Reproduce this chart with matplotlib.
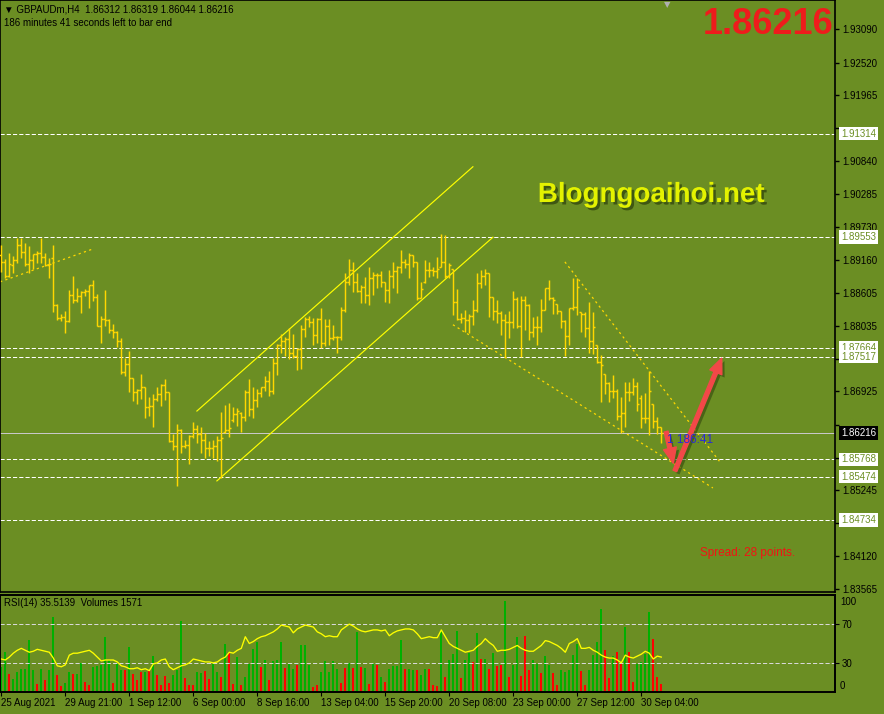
import numpy as np
import matplotlib
matplotlib.use("Agg")
import matplotlib.pyplot as plt
import matplotlib.patheffects as pe
import matplotlib.transforms as mtrans
from matplotlib.patches import FancyArrowPatch

plt.rcParams['font.family'] = ['Liberation Sans', 'DejaVu Sans']
plt.rcParams['lines.scale_dashes'] = False

# ---------------- data ----------------
symbol_header = "▼ GBPAUDm,H4  1.86312 1.86319 1.86044 1.86216"
timer_text = "186 minutes 41 seconds left to bar end"

highs = [1.8942, 1.8918, 1.8928, 1.8923, 1.8954, 1.8954, 1.8945, 1.8940, 1.8926, 1.8932,
         1.8954, 1.8928, 1.8920, 1.8942, 1.8841, 1.8824, 1.8829, 1.8865, 1.8889, 1.8869,
         1.8863, 1.8867, 1.8874, 1.8882, 1.8858, 1.8821, 1.8865, 1.8816, 1.8807, 1.8795,
         1.8783, 1.8749, 1.8761, 1.8715, 1.8697, 1.8722, 1.8700, 1.8683, 1.8688, 1.8700,
         1.8705, 1.8714, 1.8691, 1.8620, 1.8637, 1.8628, 1.8610, 1.8618, 1.8640, 1.8635,
         1.8632, 1.8622, 1.8608, 1.8610, 1.8617, 1.8657, 1.8669, 1.8673, 1.8666, 1.8664,
         1.8657, 1.8695, 1.8714, 1.8700, 1.8697, 1.8700, 1.8719, 1.8727, 1.8749, 1.8773,
         1.8790, 1.8785, 1.8800, 1.8790, 1.8766, 1.8806, 1.8819, 1.8821, 1.8817, 1.8817,
         1.8834, 1.8816, 1.8816, 1.8806, 1.8787, 1.8836, 1.8894, 1.8918, 1.8913, 1.8894,
         1.8874, 1.8887, 1.8904, 1.8896, 1.8894, 1.8897, 1.8879, 1.8899, 1.8913, 1.8906,
         1.8933, 1.8918, 1.8928, 1.8925, 1.8913, 1.8879, 1.8916, 1.8913, 1.8904, 1.8921,
         1.8961, 1.8959, 1.8911, 1.8901, 1.8867, 1.8826, 1.8831, 1.8824, 1.8848, 1.8894,
         1.8899, 1.8901, 1.8894, 1.8853, 1.8848, 1.8829, 1.8824, 1.8829, 1.8863, 1.8853,
         1.8855, 1.8855, 1.8841, 1.8819, 1.8821, 1.8850, 1.8869, 1.8882, 1.8853, 1.8841,
         1.8829, 1.8814, 1.8834, 1.8886, 1.8886, 1.8828, 1.8828, 1.8845, 1.8828, 1.8771,
         1.8754, 1.8722, 1.8708, 1.8720, 1.8697, 1.8683, 1.8708, 1.8708, 1.8715, 1.8708,
         1.8686, 1.8690, 1.8727, 1.8671, 1.8649, 1.86319]
lows = [1.8896, 1.8886, 1.8887, 1.8894, 1.8911, 1.8920, 1.8906, 1.8894, 1.8901, 1.8911,
        1.8911, 1.8906, 1.8886, 1.8828, 1.8814, 1.8812, 1.8792, 1.8811, 1.8843, 1.8845,
        1.8826, 1.8855, 1.8834, 1.8846, 1.8804, 1.8775, 1.8804, 1.8792, 1.8783, 1.8768,
        1.8722, 1.8719, 1.8691, 1.8676, 1.8671, 1.8680, 1.8647, 1.8651, 1.8632, 1.8676,
        1.8668, 1.8678, 1.8606, 1.8593, 1.8531, 1.8588, 1.8596, 1.8569, 1.8613, 1.8605,
        1.8588, 1.8579, 1.8583, 1.8579, 1.8574, 1.8545, 1.8622, 1.8615, 1.8640, 1.8634,
        1.8623, 1.8642, 1.8651, 1.8647, 1.8666, 1.8683, 1.8693, 1.8685, 1.8688, 1.8720,
        1.8758, 1.8753, 1.8748, 1.8749, 1.8729, 1.8731, 1.8785, 1.8802, 1.8771, 1.8775,
        1.8766, 1.8770, 1.8771, 1.8780, 1.8758, 1.8780, 1.8828, 1.8874, 1.8862, 1.8862,
        1.8843, 1.8843, 1.8840, 1.8857, 1.8869, 1.8870, 1.8845, 1.8843, 1.8869, 1.8860,
        1.8894, 1.8903, 1.8886, 1.8904, 1.8848, 1.8852, 1.8877, 1.8887, 1.8889, 1.8886,
        1.8904, 1.8886, 1.8886, 1.8823, 1.8814, 1.8809, 1.8794, 1.8792, 1.8806, 1.8828,
        1.8869, 1.8874, 1.8819, 1.8814, 1.8809, 1.8788, 1.8751, 1.8783, 1.8800, 1.8800,
        1.8751, 1.8797, 1.8780, 1.8785, 1.8771, 1.8794, 1.8831, 1.8848, 1.8824, 1.8824,
        1.8800, 1.8753, 1.8771, 1.8831, 1.8823, 1.8794, 1.8785, 1.8758, 1.8756, 1.8741,
        1.8674, 1.8688, 1.8674, 1.8681, 1.8644, 1.8622, 1.8632, 1.8676, 1.8686, 1.8659,
        1.8630, 1.8639, 1.8618, 1.8630, 1.8620, 1.86044]
opens = [1.8925, 1.8913, 1.8889, 1.8908, 1.8916, 1.8942, 1.8930, 1.8909, 1.8916, 1.8926,
         1.8928, 1.8921, 1.8908, 1.8920, 1.8840, 1.8817, 1.8819, 1.8812, 1.8857, 1.8848,
         1.8855, 1.8862, 1.8863, 1.8874, 1.8853, 1.8804, 1.8816, 1.8814, 1.8797, 1.8794,
         1.8778, 1.8725, 1.8739, 1.8715, 1.8691, 1.8695, 1.8700, 1.8666, 1.8668, 1.8680,
         1.8688, 1.8703, 1.8691, 1.8608, 1.8600, 1.8627, 1.8600, 1.8601, 1.8617, 1.8628,
         1.8620, 1.8610, 1.8596, 1.8596, 1.8600, 1.8610, 1.8623, 1.8627, 1.8644, 1.8654,
         1.8656, 1.8649, 1.8691, 1.8663, 1.8678, 1.8690, 1.8700, 1.8710, 1.8693, 1.8741,
         1.8771, 1.8778, 1.8782, 1.8758, 1.8753, 1.8765, 1.8799, 1.8816, 1.8811, 1.8788,
         1.8816, 1.8775, 1.8804, 1.8783, 1.8785, 1.8785, 1.8831, 1.8879, 1.8899, 1.8879,
         1.8863, 1.8870, 1.8857, 1.8886, 1.8891, 1.8891, 1.8879, 1.8865, 1.8889, 1.8897,
         1.8904, 1.8913, 1.8909, 1.8925, 1.8913, 1.8852, 1.8879, 1.8899, 1.8899, 1.8897,
         1.8904, 1.8913, 1.8889, 1.8901, 1.8845, 1.8816, 1.8817, 1.8814, 1.8821, 1.8831,
         1.8877, 1.8889, 1.8894, 1.8853, 1.8829, 1.8826, 1.8814, 1.8811, 1.8811, 1.8850,
         1.8804, 1.8848, 1.8840, 1.8794, 1.8802, 1.8802, 1.8831, 1.8869, 1.8852, 1.8841,
         1.8829, 1.8812, 1.8787, 1.8834, 1.8836, 1.8828, 1.8824, 1.8800, 1.8778, 1.8771,
         1.8743, 1.8722, 1.8707, 1.8693, 1.8693, 1.8651, 1.8656, 1.8691, 1.8691, 1.8702,
         1.8681, 1.8647, 1.8647, 1.8671, 1.8642, 1.86312]
closes = [1.8913, 1.8889, 1.8909, 1.8916, 1.8942, 1.8930, 1.8909, 1.8916, 1.8926, 1.8928,
          1.8921, 1.8908, 1.8909, 1.8840, 1.8817, 1.8819, 1.8812, 1.8857, 1.8848, 1.8855,
          1.8862, 1.8863, 1.8874, 1.8853, 1.8804, 1.8816, 1.8814, 1.8797, 1.8794, 1.8778,
          1.8725, 1.8739, 1.8715, 1.8691, 1.8695, 1.8700, 1.8666, 1.8668, 1.8680, 1.8688,
          1.8703, 1.8691, 1.8608, 1.8600, 1.8627, 1.8600, 1.8601, 1.8617, 1.8628, 1.8620,
          1.8610, 1.8596, 1.8596, 1.8600, 1.8610, 1.8613, 1.8627, 1.8630, 1.8654, 1.8659,
          1.8649, 1.8691, 1.8663, 1.8678, 1.8690, 1.8700, 1.8710, 1.8693, 1.8741, 1.8771,
          1.8778, 1.8782, 1.8758, 1.8753, 1.8765, 1.8799, 1.8816, 1.8811, 1.8788, 1.8816,
          1.8775, 1.8804, 1.8783, 1.8785, 1.8785, 1.8831, 1.8879, 1.8899, 1.8879, 1.8863,
          1.8870, 1.8857, 1.8886, 1.8891, 1.8891, 1.8879, 1.8865, 1.8889, 1.8897, 1.8904,
          1.8913, 1.8909, 1.8925, 1.8913, 1.8852, 1.8867, 1.8899, 1.8899, 1.8897, 1.8901,
          1.8913, 1.8889, 1.8908, 1.8845, 1.8816, 1.8817, 1.8814, 1.8821, 1.8831, 1.8877,
          1.8889, 1.8894, 1.8853, 1.8829, 1.8826, 1.8814, 1.8811, 1.8811, 1.8850, 1.8804,
          1.8848, 1.8840, 1.8794, 1.8802, 1.8802, 1.8831, 1.8869, 1.8852, 1.8848, 1.8829,
          1.8812, 1.8787, 1.8834, 1.8836, 1.8870, 1.8824, 1.8800, 1.8778, 1.8802, 1.8743,
          1.8737, 1.8707, 1.8693, 1.8693, 1.8651, 1.8656, 1.8691, 1.8691, 1.8702, 1.8671,
          1.8647, 1.8647, 1.8693, 1.8642, 1.8632, 1.86216]

rsi = [34, 33, 36, 40, 43, 45, 43, 41, 42, 44,
       43, 42, 41, 35, 27, 26, 28, 38, 40, 40,
       41, 42, 43, 40, 36, 32, 33, 33, 33, 31,
       27, 26, 24, 24, 25, 23, 24, 22, 29, 30,
       33, 34, 26, 23, 25, 27, 28, 30, 34, 33,
       32, 31, 31, 30, 31, 34, 36, 41, 40, 43,
       45, 57, 50, 52, 55, 57, 58, 60, 62, 65,
       69, 68, 67, 61, 65, 67, 69, 68, 67, 62,
       60, 57, 58, 57, 57, 64, 67, 70, 68, 65,
       63, 62, 63, 64, 64, 63, 64, 58, 61, 63,
       64, 65, 65, 64, 60, 55, 56, 57, 56, 56,
       64, 57, 50, 47, 45, 43, 41, 42, 43, 47,
       50, 55, 51, 48, 42, 43, 43, 44, 46, 48,
       45, 43, 42, 42, 45, 48, 53, 52, 50, 48,
       45, 41, 50, 52, 55, 45, 45, 46, 43, 41,
       38, 36, 35, 35, 33, 30, 38, 36, 35, 37,
       39, 42, 40, 34, 37, 36]

volumes = [4725, 7560, 3465, 2520, 3780, 4284, 4284, 9765, 4095, 1449,
           4284, 2205, 4095, 14175, 3150, 1134, 1764, 3780, 3465, 3465,
           5544, 1890, 1260, 4725, 4851, 5040, 10395, 5985, 1701, 5355,
           4095, 4095, 8505, 3465, 2205, 3780, 3780, 3906, 6741, 3150,
           1260, 2961, 1701, 3150, 4095, 13356, 2709, 1260, 1260, 3780,
           3654, 3906, 2520, 5355, 3780, 2835, 9135, 7560, 1575, 6615,
           1260, 2835, 5229, 8190, 9450, 4725, 6111, 2205, 5859, 6111,
           9450, 4599, 5355, 4410, 5040, 8820, 8820, 5040, 945, 1260,
           3780, 5859, 3780, 5859, 4410, 1701, 4599, 5481, 4599, 11340,
           4725, 4599, 1449, 5229, 5040, 2835, 1890, 4410, 4851, 4851,
           9765, 4410, 4410, 4095, 4221, 3150, 4284, 4410, 1386, 1134,
           11781, 2835, 5985, 7245, 11529, 2709, 5985, 7371, 5670, 11151,
           6300, 6300, 4410, 7371, 4851, 5040, 17199, 2835, 5040, 10395,
           2961, 10521, 4095, 5985, 5229, 3591, 6741, 5040, 3591, 1386,
           4095, 3780, 4221, 6930, 9009, 3969, 1386, 4095, 6930, 9450,
           15750, 7875, 2709, 6741, 7560, 5670, 12285, 7560, 1890, 5355,
           5670, 7245, 15120, 10080, 2835, 1571]
volume_up = ("ggrggggggr" "grggrrggrg" "grrgggggrg" "grgrrrgrgr" "rrrgggrrrg"
             "grrggrgrrg" "rggggrgrgg" "grggrgggrr" "gggggrrgrg" "rgrgrgrgg"
             "ggrggrggrr" "rgrgggrggr" "grgrgrr" "grggrrrggr" "ggrrgggggr"
             "rggggrrgrr" "grrggggrrr")

price_ticks = [1.93090, 1.92520, 1.91965, 1.91410, 1.90840, 1.90285, 1.89730, 1.89160,
               1.88605, 1.88035, 1.87480, 1.86925, 1.86355, 1.85790, 1.85245, 1.84675,
               1.84120, 1.83565]
hidden_ticks = [1.91410, 1.87480, 1.86355, 1.85790, 1.84675]   # covered by level labels
level_prices = [1.91314, 1.89553, 1.87664, 1.87517, 1.85768, 1.85474, 1.84734]
current_price = 1.86216

date_labels = ["25 Aug 2021", "29 Aug 21:00", "1 Sep 12:00", "6 Sep 00:00", "8 Sep 16:00",
               "13 Sep 04:00", "15 Sep 20:00", "20 Sep 08:00", "23 Sep 00:00",
               "27 Sep 12:00", "30 Sep 04:00"]
date_label_bars = [0, 16, 32, 48, 64, 80, 96, 112, 128, 144, 160]

# trend lines: (bar0, price0, bar1, price1)
up_channel_top = (48.9, 1.8659, 117.9, 1.9075)
up_channel_bottom = (53.9, 1.8540, 122.9, 1.8955)
left_trend = (-0.3, 1.8879, 22.9, 1.8935)
down_channel_top = (140.9, 1.8913, 179.7, 1.8572)
down_channel_bottom = (112.9, 1.8806, 177.9, 1.8528)
arrow_down = ((166.2, 1.8624), (168.0, 1.8570))
arrow_up = ((168.4, 1.8557), (180.1, 1.8749))

# ---------------- style ----------------
W, H = 884, 714
BG = '#6B8E23'
GOLD = '#FFD700'
YEL = '#FFFF00'
PX = 0.72  # one pixel in points at 100 dpi

fig = plt.figure(figsize=(W / 100, H / 100), dpi=100, facecolor=BG)


def rect(l, t, r, b):
    return [l / W, 1 - b / H, (r - l) / W, (b - t) / H]


X0, X1 = -0.325, 208.425
Y0, Y1 = 1.83508, 1.9359
ax = fig.add_axes(rect(0, 0, 835, 592))
ax.set_facecolor(BG)
ax.set_xlim(X0, X1)
ax.set_ylim(Y0, Y1)
for s in ax.spines.values():
    s.set_color('black')
    s.set_linewidth(1.2)

n = len(closes)
x = np.arange(n)
xw = (X1 - X0) / 835          # one pixel in bar units

# horizontal levels
for lv in level_prices:
    ax.axhline(lv, color='white', lw=PX, ls=(0, (3.0, 1.5)), zorder=1, snap=True)
ax.axhline(current_price, color='#C8C8C8', lw=PX, zorder=1, snap=True)

# OHLC bars
BLW = 1.05
ax.vlines(x, lows, highs, color=GOLD, lw=BLW, zorder=3)
ax.hlines(opens, x - 2 * xw, x, color=GOLD, lw=BLW, zorder=3)
ax.hlines(closes, x, x + 2 * xw, color=GOLD, lw=BLW, zorder=3)

# trend lines
for (a0, p0, a1, p1) in [up_channel_top, up_channel_bottom]:
    ax.plot([a0, a1], [p0, p1], color=YEL, lw=0.85, zorder=2)
for (a0, p0, a1, p1) in [left_trend, down_channel_top, down_channel_bottom]:
    ax.plot([a0, a1], [p0, p1], color=GOLD, lw=0.9, ls=(0, (1.6, 2.4)), zorder=2)

# arrows
for (pa, pb) in [arrow_down, arrow_up]:
    arr = FancyArrowPatch(pa, pb, arrowstyle='simple,head_length=1.0,head_width=0.85,tail_width=0.26',
                          mutation_scale=11, color='#F24848', shrinkA=0, shrinkB=0, zorder=6,
                          path_effects=[pe.SimplePatchShadow(offset=(2, -2), shadow_rgbFace='#2E400C', alpha=0.55),
                                        pe.Normal()])
    ax.add_patch(arr)

# y ticks
ax.yaxis.tick_right()
ax.set_yticks(price_ticks)
ax.set_yticklabels(["" if t in hidden_ticks else f"{t:.5f}" for t in price_ticks])
ax.tick_params(axis='y', direction='out', length=3, width=1, color='black', labelsize=7,
               labelcolor='black', pad=2)
ax.set_xticks([])

tr = mtrans.blended_transform_factory(ax.transAxes, ax.transData)
for lv in level_prices:
    ax.text(1 + 6 / 835, lv, f"{lv:.5f}", transform=tr, ha='left', va='center', fontsize=7,
            color=BG, clip_on=False, zorder=10,
            bbox=dict(boxstyle='square,pad=0.18', fc='white', ec='none'))
ax.text(1 + 6 / 835, current_price, f"{current_price:.5f}", transform=tr, ha='left', va='center',
        fontsize=7, color='white', clip_on=False, zorder=10,
        bbox=dict(boxstyle='square,pad=0.18', fc='black', ec='none'))

# texts on main chart
fig.text(4 / W, 1 - 10 / H, symbol_header, fontsize=7, color='black', va='center', ha='left',
         family=['Liberation Sans', 'DejaVu Sans'])
fig.text(4 / W, 1 - 22.5 / H, timer_text, fontsize=7, color='black', va='center', ha='left')
fig.text(833 / W, 1 - 25 / H, "1.86216", fontsize=26, weight='bold', color='#EE1C1C',
         ha='right', va='center')
fig.text(651 / W, 1 - 195 / H, "Blogngoaihoi.net", fontsize=20, weight='bold', color='#E4F200',
         ha='center', va='center',
         path_effects=[pe.withSimplePatchShadow(offset=(1.8, -1.8), shadow_rgbFace='#34480E', alpha=0.8)])
fig.text(700 / W, 1 - 553 / H, "Spread: 28 points.", fontsize=8.5, color='#F01414', ha='left', va='center')
fig.text(667 / W, 1 - 440 / H, "1 186:41", fontsize=8.5, color='#2A2AD8', ha='left', va='center', zorder=5)
fig.text(667 / W, 1 - 5 / H, "▼", fontsize=6, color='#B0B0B0', ha='center', va='center',
         family=['DejaVu Sans'])

# ---------------- RSI / volumes panel ----------------
rax = fig.add_axes(rect(0, 595, 835, 692))
rax.set_facecolor(BG)
rax.set_xlim(X0, X1)
rax.set_ylim(0, 18333)
vcols = ['#00B000' if c == 'g' else '#FF0000' for c in volume_up][:len(volumes)]
rax.bar(np.arange(len(volumes)), volumes, width=2.0 * xw, color=vcols, linewidth=0,
        antialiased=False, zorder=2)
rax.set_yticks([])
for s in rax.spines.values():
    s.set_color('black')
    s.set_linewidth(1.2)
rax.set_xticks(date_label_bars)
rax.set_xticklabels(date_labels, ha='left')
rax.tick_params(axis='x', direction='out', length=3, color='black', labelsize=7, pad=1.5)

r2 = rax.twinx()
r2.patch.set_visible(False)
r2.set_ylim(0, 100)
r2.set_xlim(X0, X1)
for lv in [30, 70]:
    r2.axhline(lv, color='#D8D8D8', lw=PX, ls=(0, (3.0, 1.5)), snap=True)
r2.plot(np.arange(len(rsi)), rsi, color=YEL, lw=0.95)
r2.set_yticks([30, 70])
r2.set_yticklabels(['30', '70'])
r2.tick_params(axis='y', direction='out', length=3, color='black', labelsize=7, pad=2)
tr2 = mtrans.blended_transform_factory(r2.transAxes, r2.transData)
r2.text(1 + 5 / 835, 92.8, "100", transform=tr2, fontsize=7, ha='left', va='center', clip_on=False)
r2.text(1 + 5 / 835, 6.2, "0", transform=tr2, fontsize=7, ha='left', va='center', clip_on=False)
for s in r2.spines.values():
    s.set_color('black')
    s.set_linewidth(1.2)
r2.text(4 / 835, 0.915, "RSI(14) 35.5139  Volumes 1571", transform=r2.transAxes, fontsize=7,
        ha='left', va='center', color='black')

fig.savefig("out.png", dpi=100, facecolor=BG)
